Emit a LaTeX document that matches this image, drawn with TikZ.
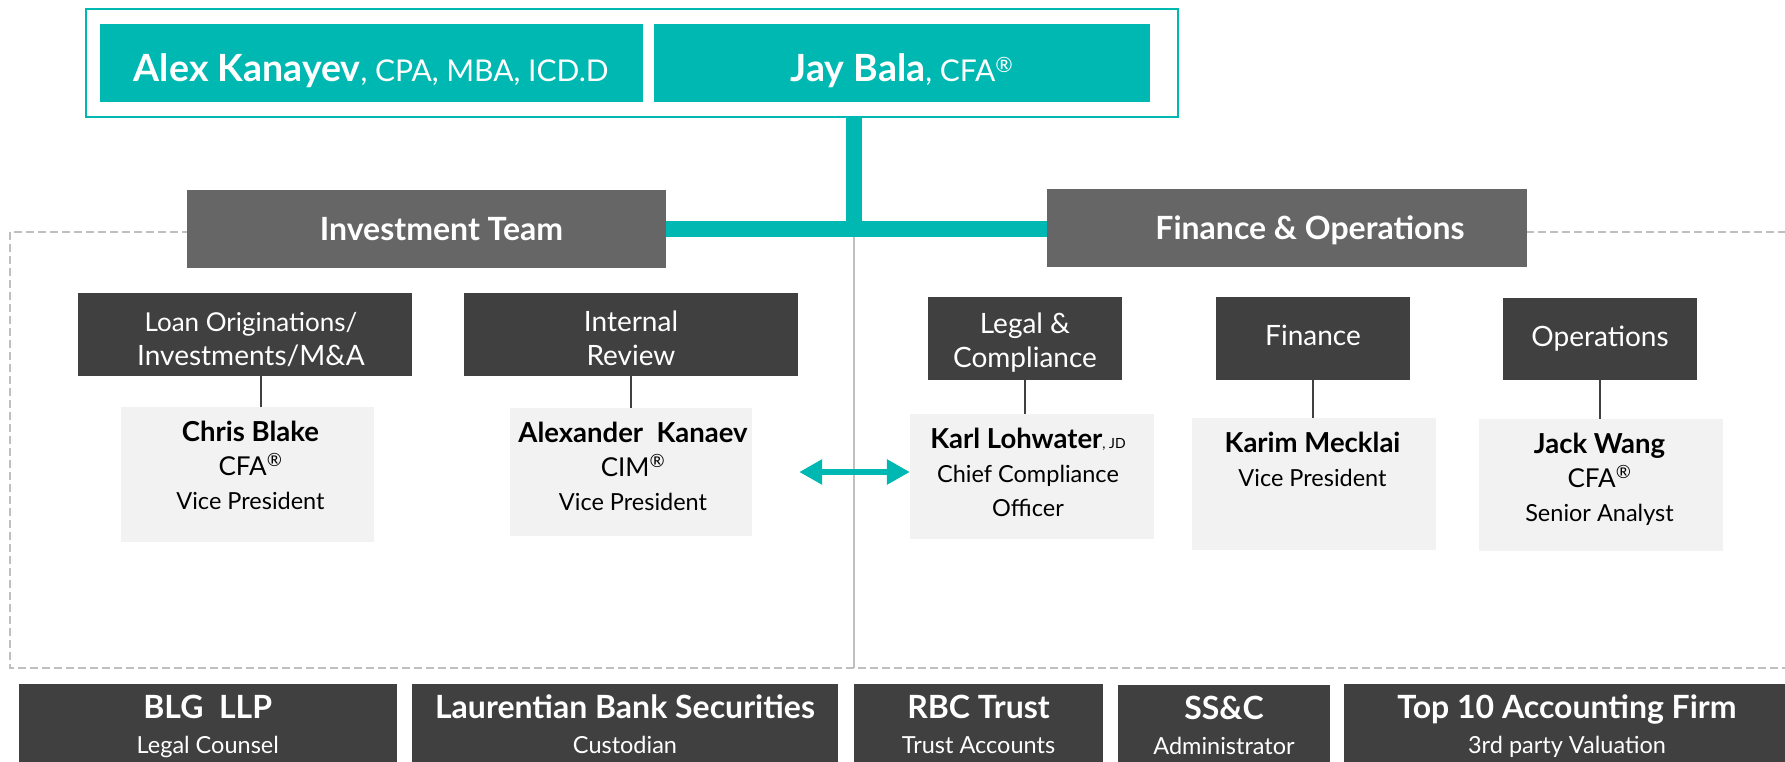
\documentclass[tikz,border=0pt]{standalone}
\usepackage{fontspec}
\setmainfont{Lato}
\usetikzlibrary{calc}
\usetikzlibrary{arrows.meta}
\definecolor{brandteal}{RGB}{0,184,178}
\definecolor{headgray}{RGB}{102,102,102}
\definecolor{boxdark}{RGB}{64,64,64}
\definecolor{lightfill}{RGB}{242,242,242}
\definecolor{rulegray}{RGB}{191,191,191}
\newcommand{\regd}{\textsuperscript{®}}
\newcommand{\lift}{\rule{0pt}{29pt}}
\newcommand{\orgbox}[7]{\node[#1, minimum width={(#5-#3)*1pt}, minimum height={(#6-#4)*1pt}] (#2) at ({(#3+#5)/2},{(#4+#6)/2}) {#7};}
\newcommand{\orgperson}[7]{\orgbox{personbox}{#1}{#2}{#3}{#4}{#5}{}
  \node[persontext, anchor=north] (#1-text) at ([xshift=#6pt, yshift=-14pt]#1.north) {#7};}
\newcommand{\orgvendor}[7]{\orgbox{vendorbox}{#1}{#2}{#3}{#4}{#5}{}
  \node[vendortext, anchor=north] (#1-text) at ([yshift=-11pt]#1.north) {{\bfseries\fontsize{32}{32}\selectfont #6}\\#7};}
\newcommand{\pname}[1]{{\bfseries\fontsize{27.5}{27.5}\selectfont #1}}
\tikzset{
  framebox/.style={draw=brandteal, line width=2.5pt, inner sep=0pt},
  topbox/.style={fill=brandteal, text=white, inner sep=0pt, font=\fontsize{30}{30}\selectfont, text height=38pt, text depth=0pt},
  teambox/.style={fill=headgray, text=white, inner sep=0pt, font=\bfseries\fontsize{32}{32}\selectfont, text height=23pt, text depth=0pt},
  deptbox/.style={fill=boxdark, text=white, inner sep=0pt, align=center, font=\fontsize{28}{34}\selectfont},
  oneline/.style={text height=20pt, text depth=6pt},
  personbox/.style={fill=lightfill, inner sep=0pt},
  persontext/.style={inner sep=0pt, align=center, text=black, font=\fontsize{23.5}{34}\selectfont},
  vendorbox/.style={fill=boxdark, inner sep=0pt},
  vendortext/.style={inner sep=0pt, align=center, text=white, font=\fontsize{23.5}{35}\selectfont},
  link/.style={draw=boxdark, line width=1.5pt},
  trunk/.style={draw=brandteal, line width=16pt},
  divider/.style={draw=rulegray, line width=2pt},
  dashbox/.style={draw=rulegray, line width=2pt, dash pattern=on 8pt off 4pt},
  twoway/.style={draw=brandteal, line width=6pt, {Triangle[length=23pt, width=24pt]}-{Triangle[length=23pt, width=24pt]}}
}
\begin{document}
\begin{tikzpicture}[x=1pt, y=-1pt]
  \useasboundingbox (0,0) rectangle (1785,762);
  \clip (0,0) rectangle (1785,762);

  % dashed frame and divider
  \draw[dashbox] (10,232) rectangle (1800,668);
  \coordinate (bus) at (854,229);
  \coordinate (floor) at (10,668);
  \draw[divider] (bus) -- (bus |- floor);

  % partners
  \orgbox{framebox}{top}{86}{9}{1178}{117}{}
  \orgbox{topbox}{alex}{99.5}{24}{643}{101.7}{{\bfseries\fontsize{37.5}{37.5}\selectfont Alex Kanayev}, CPA, MBA, ICD.D}
  \orgbox{topbox}{jay}{654}{24}{1150}{101.7}{{\bfseries\fontsize{37.5}{37.5}\selectfont Jay Bala}, CFA\regd}

  % teams
  \orgbox{teambox}{invest}{187}{190}{666}{267.5}{\hspace*{30pt}Investment Team}
  \orgbox{teambox}{finops}{1047}{189}{1527}{266.7}{\hspace*{46pt}Finance \& Operations}
  \draw[trunk] (top.south -| bus) -- (bus);
  \draw[trunk] (invest.east) -- (invest.east -| finops.west);

  % departments
  \orgbox{deptbox}{loan}{78}{293}{412}{376}{\fontsize{26}{33}\selectfont\lift\hspace*{12pt}Loan Originations/\\\hspace*{12pt}Investments/M\&A}
  \orgbox{deptbox}{review}{464}{293}{798}{376}{\lift Internal\\Review}
  \orgbox{deptbox}{legal}{928}{297}{1122}{380}{\lift Legal \&\\Compliance}
  \orgbox{deptbox, oneline}{finance}{1216}{297}{1410}{380}{Finance}
  \orgbox{deptbox, oneline}{ops}{1503}{298}{1697}{380}{Operations}

  % people
  \orgperson{chris}{121}{407}{374}{541.7}{3}{\pname{Chris Blake}\\{\fontsize{26}{26}\selectfont CFA\regd}\\Vice President}
  \orgperson{alexk}{510}{408}{752}{536}{2}{\pname{Alexander\ \ Kanaev}\\{\fontsize{26}{26}\selectfont CIM\regd}\\Vice President}
  \orgperson{karl}{910}{414}{1154}{538.7}{-4}{\pname{Karl Lohwater}{\fontsize{14}{14}\selectfont, JD}\\Chief Compliance\\Officer}
  \orgperson{karim}{1192}{418}{1436}{549.5}{-1.5}{\pname{Karim Mecklai}\\Vice President}
  \orgperson{jack}{1479}{419}{1723}{550.7}{-1.5}{\pname{Jack Wang}\\{\fontsize{26}{26}\selectfont CFA\regd}\\Senior Analyst}

  \draw[link] ([xshift=16pt]loan.south) -- ([xshift=16pt]loan.south |- chris.north);
  \draw[link] (review.south) -- (review.south |- alexk.north);
  \draw[link] (legal.south) -- (legal.south |- karl.north);
  \draw[link] (finance.south) -- (finance.south |- karim.north);
  \draw[link] (ops.south) -- (ops.south |- jack.north);
  \draw[twoway, shorten <=47pt] (alexk.east) -- (alexk.east -| karl.west);

  % service providers
  \orgvendor{blg}{19}{684}{396.5}{800}{BLG\ \ LLP}{Legal Counsel}
  \orgvendor{lbs}{412}{684}{838}{800}{Laurentian Bank Securities}{Custodian}
  \orgvendor{rbc}{854}{684}{1103}{800}{RBC Trust}{Trust Accounts}
  \orgvendor{ssc}{1118}{685}{1330}{800}{SS\&C}{Administrator}
  \orgvendor{topten}{1344}{684}{1790}{800}{Top 10 Accounting Firm}{3rd party Valuation}
\end{tikzpicture}
\end{document}
